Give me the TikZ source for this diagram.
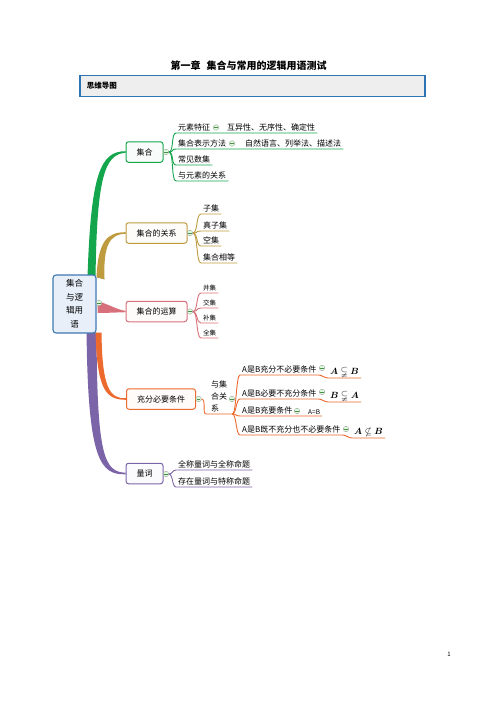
\documentclass[tikz,border=0pt]{standalone}
\usepackage{fontspec}
\setmainfont{Noto Sans CJK SC}
\usepackage{amsmath,amssymb}
\usetikzlibrary{calc,backgrounds}

\definecolor{vertb}{HTML}{14A64C}
\definecolor{ocre}{HTML}{BE9B3E}
\definecolor{rose}{HTML}{D7707A}
\definecolor{orangeb}{HTML}{EC6A2E}
\definecolor{mauve}{HTML}{7C64A8}
\definecolor{bleur}{HTML}{3E78B2}
\definecolor{bleuclair}{HTML}{E8EFF9}
\definecolor{bleucadre}{HTML}{2E74B5}

\tikzset{
  texte/.style={font=\fontsize{8}{10}\selectfont},
  petit/.style={font=\fontsize{6.5}{8}\selectfont},
  branche/.style={draw=#1, fill=#1!3!white, line width=1pt, rounded corners=2.5pt,
    minimum height=20.5pt, inner xsep=10.5pt, texte},
  feuille/.style={anchor=south west, inner xsep=2pt, inner ysep=1.5pt, texte},
  marque/.style={circle, draw=gray!75, fill=green!14, line width=0.4pt,
    minimum size=5.5pt, inner sep=0pt,
    path picture={\draw[line width=0.5pt, green!35!black!70]
      ([xshift=1.1pt]path picture bounding box.west) -- ([xshift=-1.1pt]path picture bounding box.east);}},
  lien/.style={draw=#1, line width=0.9pt}
}

\begin{document}
\begin{tikzpicture}[x=1pt,y=-1pt]
  \useasboundingbox (0,0) rectangle (496,702);

  % Titre et bandeau
  \node[font=\fontsize{10}{12}\selectfont\bfseries] (titre) at (248.5,66) {第一章\hspace{6pt}集合与常用的逻辑用语测试};
  \node[draw=bleucadre, fill=gray!13, line width=1.3pt, minimum width=345pt, minimum height=21pt, inner sep=0pt] (bandeau) at (252.5,86) {};
  \node[anchor=west, font=\fontsize{7.5}{9}\selectfont\bfseries] (carte) at ([xshift=4pt]bandeau.west) {思维导图};

  % Sujet central et branches
  \node[draw=bleur, fill=bleuclair, line width=1.1pt, rounded corners=3pt, minimum width=43pt, minimum height=58pt,
    align=center, font=\fontsize{8.5}{13.5}\selectfont] (racine) at (74.5,304) {集合\\与逻\\辑用\\语};
  \node[branche=vertb] (ensemble) at (144.5,152) {集合};
  \node[branche=ocre] (relation) at (156.5,233) {集合的关系};
  \node[branche=rose] (operation) at (156.5,311.5) {集合的运算};
  \node[branche=orangeb] (condition) at (161,399) {充分必要条件};
  \node[branche=mauve] (quantif) at (144.5,473.5) {量词};

  \node[marque] (m-racine) at (99,303) {};
  \node[marque] (m-ens) at (166,152) {};
  \node[marque] (m-rel) at (190,233) {};
  \node[marque] (m-ops) at (190,311.5) {};
  \node[marque] (m-cond) at (198.5,399) {};
  \node[marque] (m-quant) at (166,474) {};

  % Rubans qui partent du sujet central
  \begin{scope}[on background layer]
    \fill[vertb] ($(racine.north east)+(-9,1)$) .. controls (91,175) and (100,151.2) .. ($(ensemble.west)+(0,-0.8)$)
      -- ($(ensemble.west)+(0,0.8)$) .. controls (104,154) and (97,180) .. ($(racine.north east)+(-1,1)$) -- cycle;
    \fill[mauve] ($(racine.south east)+(-10,-1)$) .. controls (88,460) and (100,474.8) .. ($(quantif.west)+(0,0.8)$)
      -- ($(quantif.west)+(0,-0.8)$) .. controls (104,472) and (97,455) .. ($(racine.south east)+(0,-1)$) -- cycle;
    \fill[ocre] ($(racine.north east)+(0,3)$) .. controls (98,240) and (108,232.2) .. ($(relation.west)+(0,-0.8)$)
      -- ($(relation.west)+(0,0.8)$) .. controls (110,234) and (103,245) .. ($(racine.north east)+(8,5)$) -- cycle;
    \fill[orangeb] ($(racine.south east)+(-1,-1)$) .. controls (97,390) and (106,399.8) .. ($(condition.west)+(0,0.8)$)
      -- ($(condition.west)+(0,-0.8)$) .. controls (110,399) and (102,388) .. ($(racine.south east)+(5,-1)$) -- cycle;
    \fill[rose] ($(racine.east)+(1,-3)$) .. controls (110,305) and (118,310) .. ($(operation.west)+(0,-0.7)$)
      -- ($(operation.west)+(0,0.7)$) .. controls (115,312.5) and (105,313) .. ($(racine.east)+(1,9)$) -- cycle;
  \end{scope}

  % Branche « 集合 »
  \node[feuille] (elem) at (176,133) {元素特征};
  \node[marque] (m-elem) at (216,127.5) {};
  \node[feuille] (elem-d) at (225,133) {互异性、无序性、确定性};
  \node[feuille] (repr) at (176,149) {集合表示方法};
  \node[marque] (m-repr) at (232,143.5) {};
  \node[feuille] (repr-d) at (243,149) {自然语言、列举法、描述法};
  \node[feuille] (nombres) at (176,165) {常见数集};
  \node[feuille] (appart) at (176,181) {与元素的关系};
  \draw[lien=vertb] (m-ens.east) .. controls +(5,0) and +(-5,0) .. (elem.south west) -- (elem-d.south east);
  \draw[lien=vertb] (m-ens.east) .. controls +(5,0) and +(-5,0) .. (repr.south west) -- (repr-d.south east);
  \draw[lien=vertb] (m-ens.east) .. controls +(5,0) and +(-5,0) .. (nombres.south west) -- (nombres.south east);
  \draw[lien=vertb] (m-ens.east) .. controls +(5,0) and +(-5,0) .. (appart.south west) -- (appart.south east);

  % Branche « 集合的关系 »
  \node[feuille] (sous) at (201,214) {子集};
  \node[feuille] (propre) at (201,231) {真子集};
  \node[feuille] (vide) at (201,246) {空集};
  \node[feuille] (egal) at (201,263) {集合相等};
  \draw[lien=ocre] (m-rel.east) .. controls +(5,0) and +(-5,0) .. (sous.south west) -- (sous.south east);
  \draw[lien=ocre] (m-rel.east) .. controls +(5,0) and +(-5,0) .. (propre.south west) -- (propre.south east);
  \draw[lien=ocre] (m-rel.east) .. controls +(5,0) and +(-5,0) .. (vide.south west) -- (vide.south east);
  \draw[lien=ocre] (m-rel.east) .. controls +(5,0) and +(-5,0) .. (egal.south west) -- (egal.south east);

  % Branche « 集合的运算 »
  \node[feuille, petit] (union) at (201,293) {并集};
  \node[feuille, petit] (inter) at (201,308) {交集};
  \node[feuille, petit] (compl) at (201,323) {补集};
  \node[feuille, petit] (univ) at (201,338) {全集};
  \draw[lien=rose] (m-ops.east) .. controls +(5,0) and +(-5,0) .. (union.south west) -- (union.south east);
  \draw[lien=rose] (m-ops.east) .. controls +(5,0) and +(-5,0) .. (inter.south west) -- (inter.south east);
  \draw[lien=rose] (m-ops.east) .. controls +(5,0) and +(-5,0) .. (compl.south west) -- (compl.south east);
  \draw[lien=rose] (m-ops.east) .. controls +(5,0) and +(-5,0) .. (univ.south west) -- (univ.south east);

  % Branche « 充分必要条件 »
  \node[feuille, align=left, font=\fontsize{8}{12}\selectfont, minimum width=26pt] (lien-ens) at (206,414) {与集\\合关\\系};
  \node[marque] (m-lien) at (232,399) {};
  \draw[lien=orangeb] (m-cond.east) .. controls +(5,0) and +(-4,0) .. (lien-ens.south west) -- (lien-ens.south east);

  \node[feuille] (suff) at (240,375) {A是B充分不必要条件};
  \node[marque] (m-suff) at (322,368) {};
  \node[feuille, inner ysep=1pt, font=\fontsize{9}{11}\selectfont] (suff-d) at (328,378) {$\boldsymbol{A}\subsetneqq\boldsymbol{B}$};
  \node[feuille] (nec) at (240,399) {A是B必要不充分条件};
  \node[marque] (m-nec) at (322,392) {};
  \node[feuille, inner ysep=1pt, font=\fontsize{9}{11}\selectfont] (nec-d) at (328,402) {$\boldsymbol{B}\subsetneqq\boldsymbol{A}$};
  \node[feuille] (equiv) at (240,416) {A是B充要条件};
  \node[marque] (m-equiv) at (297,411) {};
  \node[feuille, petit] (equiv-d) at (306,416) {A=B};
  \node[feuille] (aucun) at (240,435) {A是B既不充分也不必要条件};
  \node[marque] (m-aucun) at (346,429) {};
  \node[feuille, inner ysep=1pt, font=\fontsize{9}{11}\selectfont] (aucun-d) at (352,438) {$\boldsymbol{A}\nsubseteq\boldsymbol{B}$};
  \draw[lien=orangeb] (lien-ens.south east) .. controls +(4,0) and +(-4,0) .. (suff.south west) -- (suff.south east)
    .. controls +(4,0) and +(-4,0) .. (suff-d.south west) -- (suff-d.south east);
  \draw[lien=orangeb] (lien-ens.south east) .. controls +(4,0) and +(-4,0) .. (nec.south west) -- (nec.south east)
    .. controls +(4,0) and +(-4,0) .. (nec-d.south west) -- (nec-d.south east);
  \draw[lien=orangeb] (lien-ens.south east) .. controls +(4,0) and +(-4,0) .. (equiv.south west) -- (equiv-d.south east);
  \draw[lien=orangeb] (lien-ens.south east) .. controls +(4,0) and +(-4,0) .. (aucun.south west) -- (aucun.south east)
    .. controls +(4,0) and +(-4,0) .. (aucun-d.south west) -- (aucun-d.south east);

  % Branche « 量词 »
  \node[feuille] (univq) at (176,470) {全称量词与全称命题};
  \node[feuille] (existq) at (176,487) {存在量词与特称命题};
  \draw[lien=mauve] (m-quant.east) .. controls +(4,0) and +(-4,0) .. (univq.south west) -- (univq.south east);
  \draw[lien=mauve] (m-quant.east) .. controls +(4,0) and +(-4,0) .. (existq.south west) -- (existq.south east);

  \node[font=\fontsize{6}{7}\selectfont] (page) at (449,654) {1};
\end{tikzpicture}
\end{document}
